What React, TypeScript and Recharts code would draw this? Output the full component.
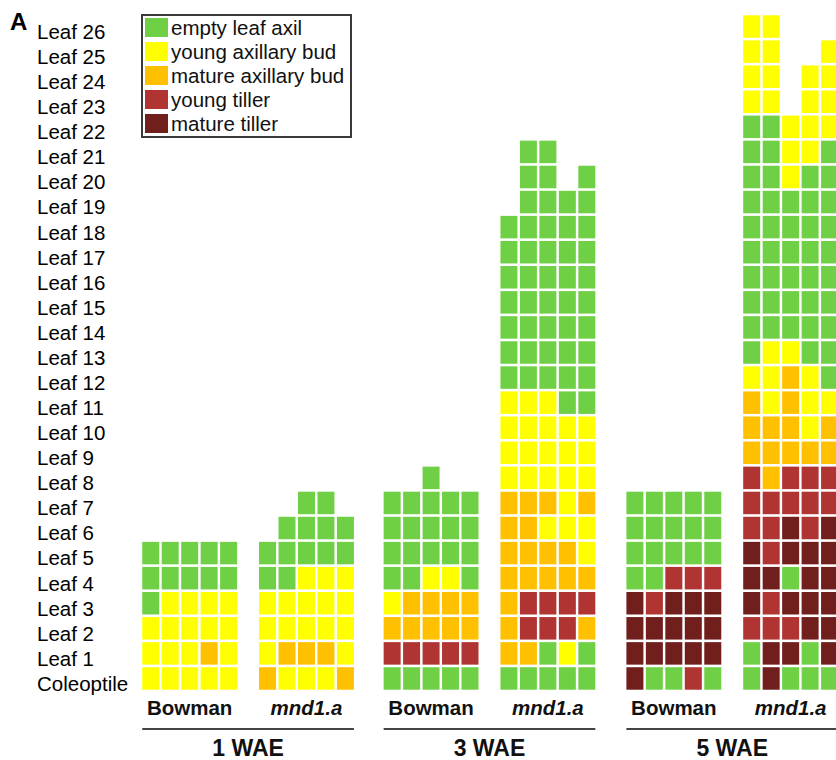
import { Legend, Scatter, ScatterChart, XAxis, YAxis } from "recharts";

const FONT = "'Liberation Sans', Arial, Helvetica, sans-serif";

const ROW_LABELS = [
  "Coleoptile", "Leaf 1", "Leaf 2", "Leaf 3", "Leaf 4", "Leaf 5", "Leaf 6",
  "Leaf 7", "Leaf 8", "Leaf 9", "Leaf 10", "Leaf 11", "Leaf 12", "Leaf 13",
  "Leaf 14", "Leaf 15", "Leaf 16", "Leaf 17", "Leaf 18", "Leaf 19", "Leaf 20",
  "Leaf 21", "Leaf 22", "Leaf 23", "Leaf 24", "Leaf 25", "Leaf 26",
];
const GENOTYPES = ["Bowman", "mnd1.a"];
const STAGES = ["1 WAE", "3 WAE", "5 WAE"];

// one string per leaf axil (coleoptile first), one char per plant
// G empty axil, Y young bud, O mature bud, R young tiller, D mature tiller, . no leaf
const BOWMAN_1WAE = ["YYYYY", "YYYOY", "YYYYY", "GYYYY", "GGGGG", "GGGGG"];
const MND1A_1WAE = ["OYYYO", "YOOOY", "YYYYY", "YYYYY", "GGYYY", "GGGGG", ".GGGG", "..GG."];
const BOWMAN_3WAE = ["GGGGG", "RRRRR", "OOOOO", "YOOOO", "GGYYG", "GGGGG", "GGGGG", "GGGGG", "..G.."];
const MND1A_3WAE = [
  "GGGGG", "OOGYG", "ORRRO", "ORRRR", "OOOOO", "OOOOY", "OOYYY", "OOOYO",
  "YYYYY", "YYYYY", "YYYYY", "YYYGG", "GGGGG", "GGGGG", "GGGGG", "GGGGG",
  "GGGGG", "GGGGG", "GGGGG", ".GGGG", ".GG.G", ".GG..",
];
const BOWMAN_5WAE = ["DGGRG", "DDDDD", "DDDDD", "DRDDD", "GGRRR", "GGGGG", "GGGGG", "GGGGG"];
const MND1A_5WAE = [
  "GDGGG", "GDDGD", "RRRDD", "DRDDD", "DDGDD", "DRDDD", "RRDRD", "RRRRR",
  "RORRR", "OOOOO", "OOOYO", "OYOYY", "YYOYG", "GYYGG", "GGGGG", "GGGGG",
  "GGGGG", "GGGGG", "GGGGG", "GGGGG", "GGYGG", "GGYYG", "GGYYY", "YY.YY",
  "YY.YY", "YY..Y", "YY...",
];
const GROUPS = [BOWMAN_1WAE, MND1A_1WAE, BOWMAN_3WAE, MND1A_3WAE, BOWMAN_5WAE, MND1A_5WAE];

const STATUS = [
  { key: "G", label: "empty leaf axil", color: "#6fd046" },
  { key: "Y", label: "young axillary bud", color: "#ffff00" },
  { key: "O", label: "mature axillary bud", color: "#ffc000" },
  { key: "R", label: "young tiller", color: "#b03432" },
  { key: "D", label: "mature tiller", color: "#711f1d" },
];

// layout
const W = 836;
const H = 760;
const LEFT = 141;
const X_DOMAIN = [-0.5, 35.2];
const PX = (W - LEFT) / (X_DOMAIN[1] - X_DOMAIN[0]);
const GROUP_X = [0, 6, 12.4, 18.4, 24.87, 30.87];
const COLOR: Record<string, string> = Object.fromEntries(STATUS.map((s) => [s.key, s.color]));

const cells = GROUPS.flatMap((rows, g) =>
  rows.flatMap((row, r) =>
    row
      .split("")
      .map((s, c) => ({ x: GROUP_X[g] + c, y: r, s }))
      .filter((p) => p.s !== "."),
  ),
);
const genotypeTicks = GROUP_X.map((g) => g + 2);

const CellMark = (p: any) => (
  <rect x={p.cx - 8.5} y={p.cy - 11.25} width={17} height={22.5} fill={COLOR[p.payload.s]} />
);

const RowTick = ({ y, payload }: any) => (
  <text x={37} y={y + 5} dy="0.36em" fontSize={20.5} fontFamily={FONT} fill="#000">
    {ROW_LABELS[payload.value]}
  </text>
);

// genotype name under each group; the first group of a pair also carries the stage bracket
const GroupTick = ({ x, y, payload }: any) => {
  const i = genotypeTicks.findIndex((t) => Math.abs(t - payload.value) < 1e-6);
  const name = GENOTYPES[i % 2];
  let stage = null;
  if (i % 2 === 0) {
    const mid = x + ((GROUP_X[i + 1] - GROUP_X[i]) / 2) * PX;
    const half = 5 * PX + 8.5;
    stage = (
      <g>
        <line x1={mid - half} x2={mid + half} y1={y + 36} y2={y + 36} stroke="#444" strokeWidth={2} />
        <text x={mid} y={y + 63} textAnchor="middle" fontSize={23} fontWeight="bold" fontFamily={FONT} fill="#111">
          {STAGES[i / 2]}
        </text>
      </g>
    );
  }
  return (
    <g>
      <text
        x={x}
        y={y + 22}
        textAnchor="middle"
        fontSize={20.5}
        fontWeight="bold"
        fontStyle={name === "mnd1.a" ? "italic" : "normal"}
        fontFamily={FONT}
        fill="#111"
      >
        {name}
      </text>
      {stage}
    </g>
  );
};

const LegendBox = () => (
  <div
    style={{
      boxSizing: "border-box",
      width: 211,
      height: 124,
      border: "2px solid #3a3a3a",
      padding: "2px 0 0 2px",
      fontFamily: FONT,
      fontSize: 20.5,
      background: "#fff",
    }}
  >
    {STATUS.map((s) => (
      <div key={s.key} style={{ display: "flex", alignItems: "center", height: 19, marginBottom: 5 }}>
        <span style={{ width: 23, height: 19, background: s.color, marginRight: 3, flex: "none" }} />
        <span style={{ lineHeight: "19px", whiteSpace: "nowrap", color: "#111" }}>{s.label}</span>
      </div>
    ))}
  </div>
);

export default function App() {
  return (
    <div style={{ position: "absolute", left: 0, top: 0, width: W, height: H, background: "#fff" }}>
      <ScatterChart width={W} height={H} margin={{ top: 14, right: 0, bottom: 0, left: 0 }}>
        <XAxis
          type="number"
          dataKey="x"
          domain={X_DOMAIN}
          ticks={genotypeTicks}
          interval={0}
          height={69}
          tickSize={0}
          axisLine={false}
          tickLine={false}
          tick={<GroupTick />}
          allowDataOverflow
        />
        <YAxis
          type="number"
          dataKey="y"
          domain={[-0.5, 26.5]}
          ticks={ROW_LABELS.map((_, i) => i)}
          interval={0}
          width={LEFT}
          axisLine={false}
          tickLine={false}
          tick={<RowTick />}
          allowDataOverflow
        />
        <Legend
          layout="vertical"
          align="center"
          verticalAlign="middle"
          wrapperStyle={{ left: 141, top: 14, width: 211, height: 124 }}
          content={() => <LegendBox />}
        />
        <Scatter data={cells} shape={CellMark} isAnimationActive={false} />
      </ScatterChart>
      <div
        style={{
          position: "absolute",
          left: 10,
          top: 10,
          fontFamily: FONT,
          fontSize: 24,
          fontWeight: "bold",
          lineHeight: "24px",
        }}
      >
        A
      </div>
    </div>
  );
}
